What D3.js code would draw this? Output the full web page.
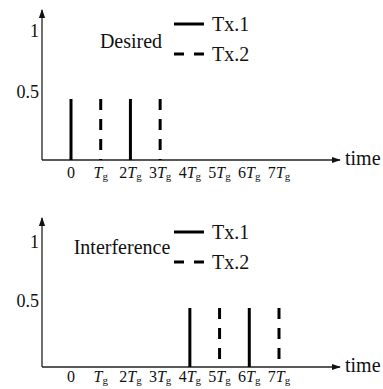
<!DOCTYPE html>
<html>
<head>
<meta charset="utf-8">
<script src="https://cdn.jsdelivr.net/npm/d3@7"></script>
<style>
  body { margin: 0; background: #fff; }
</style>
</head>
<body>
<div id="chart"></div>
<script>
// data
var slots = [0, 1, 2, 3, 4, 5, 6, 7];
var slotCoef = ["0", "", "2", "3", "4", "5", "6", "7"];
var yTicks = [0.5, 1];
var pulseHeight = 0.5;
var panelNames = ["Desired", "Interference"];
var tx1Slots = [[0, 2], [4, 6]];
var tx2Slots = [[1, 3], [5, 7]];
var legendNames = ["Tx.1", "Tx.2"];

var svgWidth = 383, svgHeight = 389;
var serif = "'Liberation Serif', 'Times New Roman', 'DejaVu Serif', serif";

var svg = d3.select("#chart")
    .append("svg")
    .attr("width", svgWidth)
    .attr("height", svgHeight)
    .attr("font-family", serif);

// arrow marker
svg.append("defs").append("marker")
    .attr("id", "arrow")
    .attr("viewBox", "0 0 10 10")
    .attr("refX", 9).attr("refY", 5)
    .attr("markerWidth", 9).attr("markerHeight", 9)
    .attr("markerUnits", "userSpaceOnUse")
    .attr("orient", "auto")
    .append("path")
    .attr("d", "M0,1.5 L10,5 L0,8.5 Z")
    .attr("fill", "#111");

var panels = [
    { top: 10, y0: 160, y1: 38, labOff: 18, name: panelNames[0], nameX: 131, nameY: 48, legY: 24 },
    { top: 218, y0: 367, y1: 249, labOff: 15, name: panelNames[1], nameX: 122, nameY: 254, legY: 232 }
];

var xScale = d3.scaleLinear().domain([0, 7]).range([71, 279]);
var axisX0 = 42, axisX1 = 340;

panels.forEach(function (p, i) {
    var g = svg.append("g");

    var yScale = d3.scaleLinear().domain([0, 1]).range([p.y0, p.y1]);

    // axes lines with arrows
    g.append("line")
        .attr("x1", axisX0).attr("y1", p.y0)
        .attr("x2", axisX0).attr("y2", p.top)
        .attr("stroke", "#222").attr("stroke-width", 1.3)
        .attr("marker-end", "url(#arrow)");

    g.append("line")
        .attr("x1", axisX0).attr("y1", p.y0)
        .attr("x2", axisX1).attr("y2", p.y0)
        .attr("stroke", "#222").attr("stroke-width", 1.3)
        .attr("marker-end", "url(#arrow)");

    g.append("text")
        .attr("x", 345).attr("y", p.y0 + 5)
        .attr("font-family", serif)
        .attr("font-size", 20)
        .attr("fill", "#111")
        .text("time");

    // y ticks
    var yAxis = d3.axisLeft(yScale).tickValues(yTicks).tickSize(0).tickPadding(2)
        .tickFormat(function (d) { return d === 1 ? "1" : "0.5"; });
    var ya = g.append("g")
        .attr("transform", "translate(" + (axisX0 - 1) + ",0)")
        .call(yAxis);
    ya.attr("font-family", serif).attr("font-size", 18);
    ya.select(".domain").remove();
    ya.selectAll("text")
        .attr("fill", "#111")
        .attr("dy", "-0.1em");

    // x tick labels
    var xl = g.selectAll(".xl")
        .data(slots)
        .enter().append("text")
        .attr("x", function (d) { return xScale(d); })
        .attr("y", p.y0 + p.labOff)
        .attr("text-anchor", "middle")
        .attr("font-family", serif)
        .attr("font-size", 16)
        .attr("fill", "#111");
    xl.each(function (d) {
        var t = d3.select(this);
        if (d === 0) { t.text("0"); return; }
        if (slotCoef[d]) t.append("tspan").text(slotCoef[d]);
        t.append("tspan").attr("font-style", "italic").text("T");
        t.append("tspan").attr("dy", 2).attr("font-size", 11).text("g");
    });

    // pulses
    g.selectAll(".tx1")
        .data(tx1Slots[i])
        .enter().append("line")
        .attr("x1", function (d) { return xScale(d); })
        .attr("x2", function (d) { return xScale(d); })
        .attr("y1", yScale(0))
        .attr("y2", yScale(pulseHeight))
        .attr("stroke", "#000").attr("stroke-width", 3);

    g.selectAll(".tx2")
        .data(tx2Slots[i])
        .enter().append("line")
        .attr("x1", function (d) { return xScale(d); })
        .attr("x2", function (d) { return xScale(d); })
        .attr("y1", yScale(pulseHeight))
        .attr("y2", yScale(0))
        .attr("stroke", "#000").attr("stroke-width", 3)
        .attr("stroke-dasharray", "11,9");

    // panel name
    g.append("text")
        .attr("x", p.nameX).attr("y", p.nameY)
        .attr("text-anchor", "middle")
        .attr("font-family", serif)
        .attr("font-size", 20)
        .attr("fill", "#111")
        .text(p.name);

    // legend
    legendNames.forEach(function (n, k) {
        var ly = p.legY + k * 30;
        g.append("line")
            .attr("x1", 174).attr("x2", 204)
            .attr("y1", ly).attr("y2", ly)
            .attr("stroke", "#000").attr("stroke-width", 3)
            .attr("stroke-dasharray", k === 1 ? "10,10" : null);
        g.append("text")
            .attr("x", 212).attr("y", ly + 7)
            .attr("font-family", serif)
            .attr("font-size", 20)
            .attr("fill", "#111")
            .text(n);
    });
});
</script>
</body>
</html>
